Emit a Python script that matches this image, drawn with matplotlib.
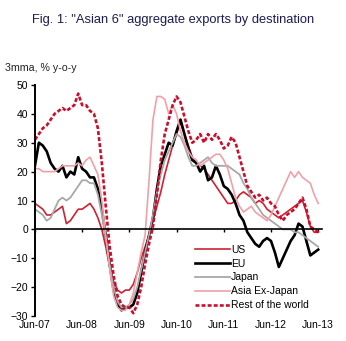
import matplotlib
matplotlib.use("Agg")
import matplotlib.pyplot as plt
import numpy as np

# monthly, Jun-07 .. Jun-13 (3mma, % y-o-y)
tick_labels = ['Jun-07', 'Jun-08', 'Jun-09', 'Jun-10', 'Jun-11', 'Jun-12', 'Jun-13']

us = [9, 8, 7, 5, 5, 6, 7, 8, 2, 3, 5, 7, 7, 8, 9, 7, 4, 0, -6, -13,
      -18, -21, -22, -21, -21, -19, -15, -10, -6, -2, 3, 8, 13, 19, 24, 29, 33, 37, 33, 29,
      25, 23, 22, 21, 19, 17, 15, 13, 11, 9, 9, 10, 12, 13, 12, 11, 9, 10, 9, 7,
      6, 5, 4, 5, 6, 7, 8, 9, 10, 6, 1, -1, -1]
eu = [22, 30, 29, 27, 23, 21, 20, 22, 18, 20, 19, 25, 21, 20, 18, 18, 14, 7, -2, -12,
      -21, -26, -28, -27, -27, -26, -22, -15, -8, -2, 4, 14, 22, 26, 30, 29, 34, 38, 33, 28,
      24, 23, 20, 22, 17, 18, 22, 19, 15, 14, 12, 9, 5, 3, -1, -3, -5, -6, -4, -3,
      -4, -8, -13, -10, -7, -4, -2, 2, 1, -4, -9, -8, -7]
japan = [7, 6, 5, 3, 4, 7, 10, 11, 10, 11, 13, 15, 17, 17, 16, 16, 12, 5, -3, -12,
         -20, -25, -27, -27, -26, -24, -20, -14, -8, -2, 5, 13, 19, 24, 27, 30, 33, 32, 29, 25,
         22, 22, 23, 24, 25, 23, 22, 22, 22, 22, 21, 20, 19, 16, 14, 11, 9, 7, 5, 4,
         3, 2, 1, 0, 0, 0, -1, -1, -2, -3, -4, -5, -6]
asia_xj = [21, 21, 20, 20, 20, 20, 21, 22, 22, 22, 22, 23, 22, 24, 25, 22, 19, 10, -2, -14,
           -23, -27, -28, -28, -26, -22, -15, -8, -2, 17, 38, 46, 46, 45, 40, 43, 40, 34, 30, 27,
           25, 24, 22, 23, 24, 25, 26, 26, 24, 21, 16, 11, 8, 6, 7, 8, 6, 5, 4, 3,
           5, 8, 11, 14, 17, 20, 18, 20, 18, 17, 16, 12, 9]
row = [31, 33, 35, 36, 38, 40, 41, 42, 41, 42, 43, 47, 43, 43, 41, 40, 35, 23, 8, -6,
       -16, -23, -26, -27, -27, -29, -26, -20, -12, -5, 1, 12, 24, 33, 38, 43, 46, 44, 39, 34,
       30, 31, 33, 30, 33, 31, 33, 31, 28, 29, 32, 30, 25, 20, 15, 13, 11, 12, 10, 11,
       9, 8, 5, 3, 5, 6, 7, 9, 11, 7, 1, 0, -1]

plt.rcParams['font.family'] = ['Liberation Sans', 'DejaVu Sans']

fig = plt.figure(figsize=(3.46, 3.41), dpi=100)
ax = fig.add_axes([0.101, 0.073, 0.830, 0.678])

x = np.arange(len(us))
ax.plot(x, us, color='#cc2233', lw=1.2, label='US')
ax.plot(x, eu, color='black', lw=1.9, label='EU')
ax.plot(x, japan, color='#a8a8a8', lw=1.3, label='Japan')
ax.plot(x, asia_xj, color='#f0a0a8', lw=1.2, label='Asia Ex-Japan')
ax.plot(x, row, color='#c8102e', lw=1.9, ls=(0, (1.5, 0.8)), label='Rest of the world')

ax.set_xlim(0, 73)
ax.set_ylim(-30, 50)
ax.set_yticks(range(-30, 51, 10))
ax.set_xticks(range(0, 73, 12))
ax.set_xticklabels(tick_labels)

for s in ['top', 'right']:
    ax.spines[s].set_visible(False)
ax.spines['left'].set_linewidth(1.4)
ax.spines['bottom'].set_position(('data', 0))
ax.spines['bottom'].set_linewidth(1.2)
ax.tick_params(axis='y', direction='out', length=3, width=1, labelsize=7.5, pad=2, colors='black')
ax.tick_params(axis='x', direction='out', length=2.5, width=1, labelsize=7.5, pad=63)

fig.text(0.5, 0.94, 'Fig. 1: "Asian 6" aggregate exports by destination',
         ha='center', va='center', fontsize=9.3, color='#1c1c50')
fig.text(0.015, 0.80, '3mma, % y-o-y', ha='left', va='center', fontsize=7.7, color='#222222')

ax.legend(loc='upper left', bbox_to_anchor=(0.54, 0.332), frameon=False, fontsize=7.5,
          handlelength=3.3, handletextpad=0.15, labelspacing=0.38, borderpad=0)

fig.savefig('out.png', dpi=100, facecolor='white')
